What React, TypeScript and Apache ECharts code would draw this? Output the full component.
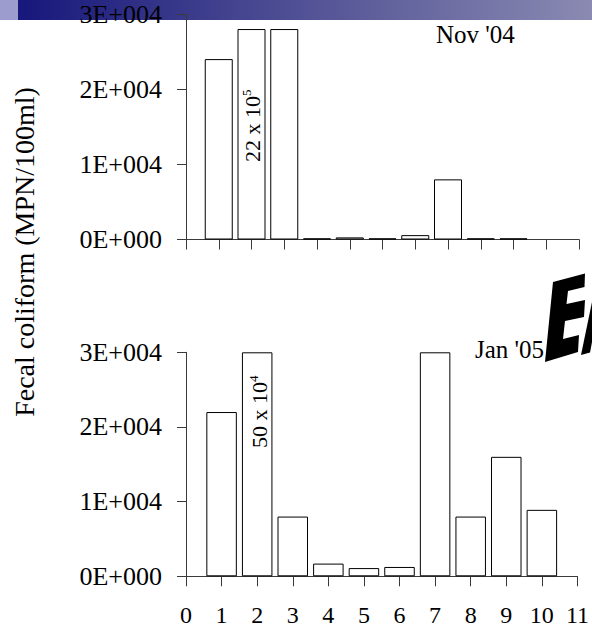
import React, { useEffect, useRef } from "react";
import * as echarts from "echarts";

// ---- data ----
const topPositions = [1, 2, 3, 4, 5, 6, 7, 8, 9, 10];
const topValues = [24000, 28000, 28000, 150, 280, 150, 580, 8000, 150, 150];
const bottomPositions = [1, 2, 3, 4, 5, 6, 7, 8, 9, 10];
const bottomValues = [22000, 30000, 8000, 1700, 1100, 1250, 30000, 8000, 16000, 8900];
const yTickValues = [0, 10000, 20000, 30000];
const yTickLabels = ["0E+000", "1E+004", "2E+004", "3E+004"];
const xTickLabelsBottom = ["0", "1", "2", "3", "4", "5", "6", "7", "8", "9", "10", "11"];
const yTitle = "Fecal coliform (MPN/100ml)";
const topPanelTitle = "Nov '04";
const bottomPanelTitle = "Jan '05";

const FONT = "Liberation Serif";
const AXIS_COLOR = "#3a3a3a";

export default function App() {
  const ref = useRef<HTMLDivElement>(null);

  useEffect(() => {
    if (!ref.current) return;
    const chart = echarts.init(ref.current, undefined, { renderer: "svg" });

    const yLabel = (v: number) => {
      const i = yTickValues.indexOf(v);
      return i >= 0 ? yTickLabels[i] : "";
    };

    const commonY = {
      type: "value",
      min: 0,
      max: 30000,
      interval: 10000,
      splitLine: { show: false },
      axisLine: { show: true, lineStyle: { color: AXIS_COLOR, width: 1 } },
      axisTick: { show: true, length: 9, lineStyle: { color: AXIS_COLOR } },
      axisLabel: {
        formatter: yLabel,
        fontFamily: FONT,
        fontSize: 26,
        color: "#000",
        margin: 24,
      },
    };

    const sup = (x: number, y: number, main: string, exp: string) => ({
      type: "group",
      x,
      y,
      z: 100,
      rotation: Math.PI / 2,
      children: [
        {
          type: "text",
          x: -37,
          y: 0,
          z: 100,
          style: {
            text: main,
            fontFamily: FONT,
            fontSize: 22,
            fill: "#000",
            align: "left",
            verticalAlign: "middle",
          },
        },
        {
          type: "text",
          x: 29,
          y: -6,
          z: 100,
          style: {
            text: exp,
            fontFamily: FONT,
            fontSize: 13,
            fill: "#000",
            align: "left",
            verticalAlign: "middle",
          },
        },
      ],
    });

    chart.setOption({
      animation: false,
      backgroundColor: "transparent",
      grid: [
        { left: 186, top: 14, width: 393, height: 225.5 },
        { left: 186, top: 352.3, width: 393, height: 224 },
      ],
      xAxis: [
        {
          gridIndex: 0,
          type: "value",
          min: 0,
          max: 12,
          interval: 1,
          splitLine: { show: false },
          axisLine: { show: true, onZero: false, lineStyle: { color: AXIS_COLOR } },
          axisTick: { show: true, length: 10, lineStyle: { color: AXIS_COLOR } },
          axisLabel: { show: false },
        },
        {
          gridIndex: 1,
          type: "value",
          min: 0,
          max: 11,
          interval: 1,
          splitLine: { show: false },
          axisLine: { show: true, onZero: false, lineStyle: { color: AXIS_COLOR } },
          axisTick: { show: true, length: 10, lineStyle: { color: AXIS_COLOR } },
          axisLabel: {
            formatter: (v: number) => xTickLabelsBottom[v] ?? "",
            fontFamily: FONT,
            fontSize: 24,
            color: "#000",
            margin: 27,
            showMinLabel: true,
            showMaxLabel: true,
          },
        },
      ],
      yAxis: [
        { gridIndex: 0, ...commonY },
        { gridIndex: 1, ...commonY },
      ],
      series: [
        {
          type: "bar",
          xAxisIndex: 0,
          yAxisIndex: 0,
          barWidth: 28,
          data: topPositions.map((p, i) => [p, topValues[i]]),
          itemStyle: { color: "#fff", borderColor: "#000", borderWidth: 1 },
          z: 3,
        },
        {
          type: "bar",
          xAxisIndex: 1,
          yAxisIndex: 1,
          barWidth: 30.5,
          data: bottomPositions.map((p, i) => [p, bottomValues[i]]),
          itemStyle: { color: "#fff", borderColor: "#000", borderWidth: 1 },
          z: 3,
        },
      ],
      graphic: {
        elements: [
          {
            type: "text",
            x: 24,
            y: 252,
            rotation: Math.PI / 2,
            style: {
              text: yTitle,
              fontFamily: FONT,
              fontSize: 28,
              fill: "#000",
              align: "center",
              verticalAlign: "middle",
            },
          },
          {
            type: "text",
            x: 436,
            y: 34,
            style: {
              text: topPanelTitle,
              fontFamily: FONT,
              fontSize: 25,
              fill: "#000",
              align: "left",
              verticalAlign: "middle",
            },
          },
          {
            type: "text",
            x: 475,
            y: 349,
            style: {
              text: bottomPanelTitle,
              fontFamily: FONT,
              fontSize: 25,
              fill: "#000",
              align: "left",
              verticalAlign: "middle",
            },
          },
          sup(252, 125, "22 x 10", "5"),
          sup(259, 411, "50 x 10", "4"),
          {
            type: "polygon",
            z: 100,
            shape: {
              points: [
                [553, 282],
                [585, 273.5],
                [584.5, 287],
                [568, 291],
                [566.5, 304],
                [585, 300],
                [584, 317],
                [565, 321],
                [563, 339],
                [579, 335],
                [578, 352],
                [545, 362],
              ],
            },
            style: { fill: "#000" },
          },
          {
            type: "polygon",
            z: 100,
            shape: {
              points: [
                [581, 355],
                [590, 352.5],
                [592, 342],
                [592, 302],
              ],
            },
            style: { fill: "#000" },
          },
        ],
      },
    });

    return () => chart.dispose();
  }, []);

  return (
    <div
      style={{
        position: "fixed",
        left: 0,
        top: 0,
        width: 592,
        height: 629,
        background:
          "linear-gradient(to right, #9c9cce 0px, #9c9cce 18px, #17177c 18px, #4a4a92 45%, #8a8ab2 100%) left top / 100% 20px no-repeat, #fff",
      }}
    >
      <div ref={ref} style={{ width: 592, height: 629 }} />
    </div>
  );
}
